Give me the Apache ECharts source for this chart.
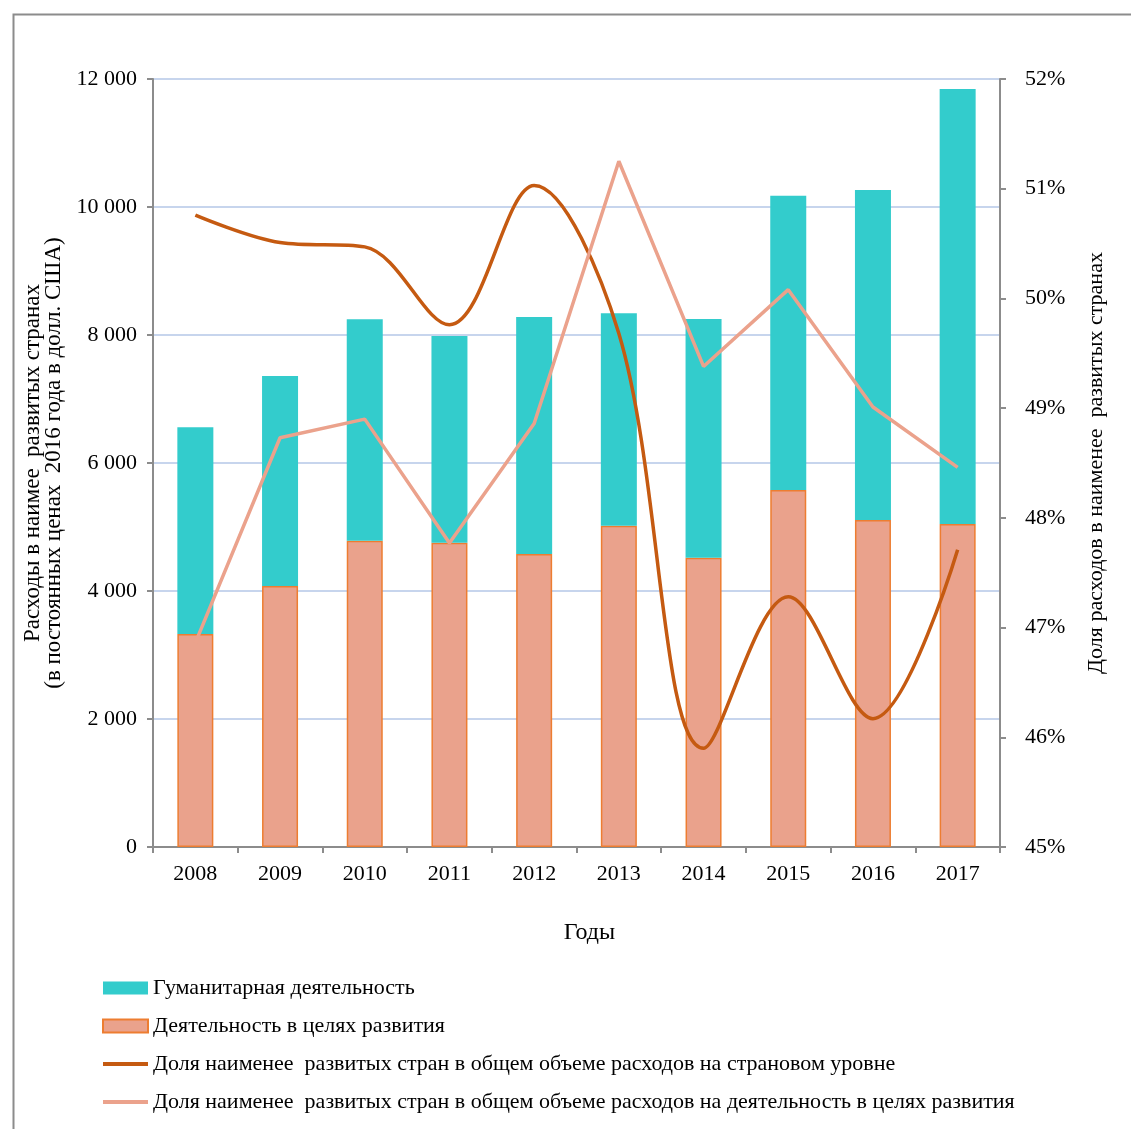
<!DOCTYPE html>
<html>
<head>
<meta charset="utf-8">
<script src="https://cdn.jsdelivr.net/npm/echarts@6/dist/echarts.min.js"></script>
<style>
  html, body { margin: 0; padding: 0; background: #fff; }
  #chart { width: 1131px; height: 1129px; }
</style>
</head>
<body>
<div id="chart"></div>
<script>
// данные
const years = ['2008', '2009', '2010', '2011', '2012', '2013', '2014', '2015', '2016', '2017']
const devActivity = [3328, 4078, 4786, 4755, 4578, 5020, 4521, 5578, 5109, 5047]
const humActivity = [3230, 3281, 3459, 3229, 3703, 3319, 3729, 4599, 5157, 6797]
const shareCountry = [50.76, 50.51, 50.47, 49.76, 51.03, 49.68, 45.90, 47.28, 46.17, 47.71]
const shareDev = [46.86, 48.73, 48.90, 47.77, 48.86, 51.25, 49.38, 50.08, 49.01, 48.46]

const nameHum = 'Гуманитарная деятельность'
const nameDev = 'Деятельность в целях развития'
const nameShareCountry = 'Доля наименее  развитых стран в общем объеме расходов на страновом уровне'
const nameShareDev = 'Доля наименее  развитых стран в общем объеме расходов на деятельность в целях развития'

const font = 'Liberation Serif'
const axisGray = '#8c8c8c'
// тонкая полоска вместо значка линии в легенде
const lineIcon = 'path://M0,0 L45,0 L45,4 L0,4 Z'

const chart = echarts.init(document.getElementById('chart'))

const option = {
  backgroundColor: '#fff',
  animation: false,
  textStyle: { fontFamily: font, color: '#000' },
  graphic: [{
    type: 'rect',
    left: 11,
    top: 12,
    shape: { width: 1200, height: 1200 },
    style: { fill: 'none', stroke: axisGray, lineWidth: 2 },
    silent: true
  }],
  grid: {
    left: 153,
    right: 131,
    top: 79,
    bottom: 282
  },
  legend: {
    orient: 'vertical',
    left: 97,
    top: 972,
    height: 150,
    itemWidth: 45,
    itemHeight: 13,
    itemGap: 16,
    textStyle: { fontFamily: font, fontSize: 22, color: '#000' },
    data: [
      { name: nameHum, icon: 'rect' },
      { name: nameDev, icon: 'rect' },
      { name: nameShareCountry, icon: lineIcon },
      { name: nameShareDev, icon: lineIcon }
    ]
  },
  xAxis: {
    type: 'category',
    data: years,
    name: 'Годы',
    nameLocation: 'middle',
    nameGap: 74,
    nameTextStyle: { fontFamily: font, fontSize: 24, color: '#000', padding: [0, 0, 0, 26] },
    axisLine: { lineStyle: { color: axisGray, width: 2 } },
    axisTick: { show: true, length: 6, lineStyle: { color: axisGray, width: 2 } },
    axisLabel: { fontFamily: font, fontSize: 22, color: '#000', margin: 16 }
  },
  yAxis: [{
    type: 'value',
    min: 0,
    max: 12000,
    interval: 2000,
    name: 'Расходы в наимее  развитых странах\n(в постоянных ценах  2016 года в долл. США)',
    nameLocation: 'middle',
    nameGap: 79,
    nameTextStyle: { fontFamily: font, fontSize: 23, color: '#000', lineHeight: 21 },
    axisLine: { show: true, lineStyle: { color: axisGray, width: 2 } },
    axisTick: { show: true, length: 6, lineStyle: { color: axisGray, width: 2 } },
    axisLabel: {
      fontFamily: font,
      fontSize: 22,
      color: '#000',
      margin: 16,
      formatter: v => String(v).replace(/\B(?=(\d{3})+(?!\d))/g, ' ')
    },
    splitLine: { lineStyle: { color: '#b4c7e7', width: 1.5 } }
  }, {
    type: 'value',
    min: 45,
    max: 52,
    interval: 1,
    position: 'right',
    name: 'Доля расходов в наименее  развитых странах',
    nameLocation: 'middle',
    nameGap: 85,
    nameRotate: 90,
    nameTextStyle: { fontFamily: font, fontSize: 22, color: '#000' },
    axisLine: { show: true, lineStyle: { color: axisGray, width: 2 } },
    axisTick: { show: true, length: 6, lineStyle: { color: axisGray, width: 2 } },
    axisLabel: { fontFamily: font, fontSize: 22, color: '#000', margin: 25, formatter: '{value}%' },
    splitLine: { show: false }
  }],
  series: [
    {
      name: nameDev,
      type: 'bar',
      stack: 'total',
      barWidth: 36,
      data: devActivity,
      itemStyle: { color: '#eaa28c', borderColor: '#ed7d31', borderWidth: 1.5 }
    },
    {
      name: nameHum,
      type: 'bar',
      stack: 'total',
      barWidth: 36,
      data: humActivity,
      itemStyle: { color: '#33cccc' }
    },
    {
      name: nameShareCountry,
      type: 'line',
      yAxisIndex: 1,
      smooth: 0.35,
      symbol: 'none',
      data: shareCountry,
      lineStyle: { color: '#c55a11', width: 3.5 },
      itemStyle: { color: '#c55a11' }
    },
    {
      name: nameShareDev,
      type: 'line',
      yAxisIndex: 1,
      symbol: 'none',
      data: shareDev,
      lineStyle: { color: '#eba28c', width: 3.5 },
      itemStyle: { color: '#eba28c' }
    }
  ]
}

chart.setOption(option)
</script>
</body>
</html>
